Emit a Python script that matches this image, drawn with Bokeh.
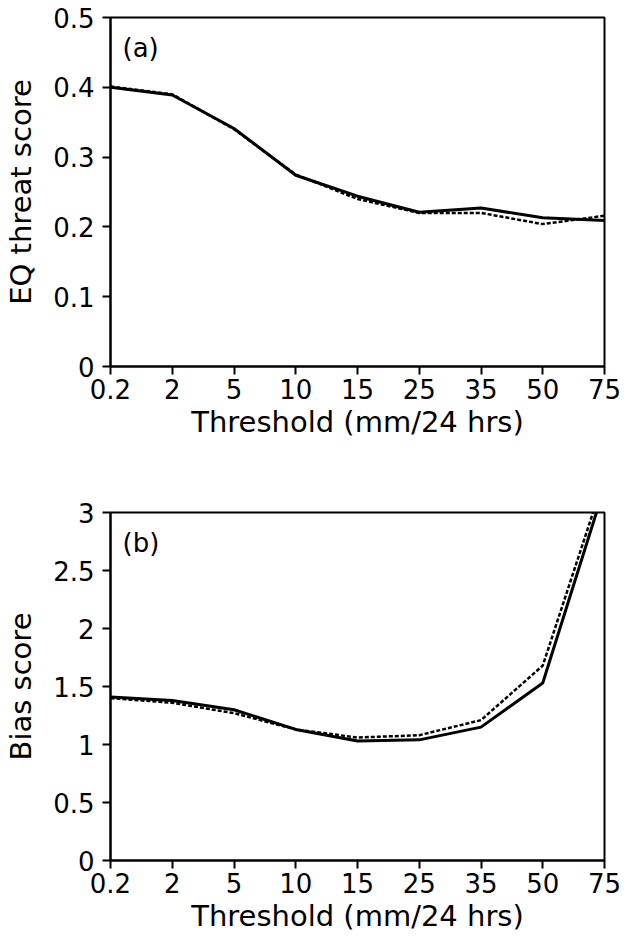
from bokeh.plotting import figure
from bokeh.layouts import column
from bokeh.models import Range1d, FixedTicker, Label
from bokeh.embed import file_html
from bokeh.resources import INLINE

thresholds = ["0.2", "2", "5", "10", "15", "25", "35", "50", "75"]
ets_solid = [0.400, 0.389, 0.341, 0.274, 0.244, 0.221, 0.227, 0.213, 0.209]
ets_dashed = [0.401, 0.390, 0.340, 0.275, 0.240, 0.220, 0.220, 0.204, 0.216]
bias_solid = [1.41, 1.38, 1.30, 1.13, 1.03, 1.04, 1.15, 1.53, 3.22]
bias_dashed = [1.40, 1.36, 1.27, 1.13, 1.06, 1.08, 1.21, 1.68, 3.30]
ets_ticks = [0, 0.1, 0.2, 0.3, 0.4, 0.5]
bias_ticks = [0, 0.5, 1, 1.5, 2, 2.5, 3]

FONT = "DejaVu Sans"
xs = list(range(len(thresholds)))


def make_panel(solid, dashed, ymax, yticks, ylabel, tag, top, bottom, height):
    p = figure(width=631, height=height, output_backend="svg", toolbar_location=None,
               x_range=Range1d(0, len(thresholds) - 1), y_range=Range1d(0, ymax),
               min_border_left=110, min_border_right=27, min_border_top=top,
               min_border_bottom=bottom)
    p.xgrid.visible = False
    p.ygrid.visible = False
    p.outline_line_color = "black"
    p.outline_line_width = 2
    p.background_fill_color = "white"
    p.border_fill_color = "white"

    p.line(xs, solid, line_color="black", line_width=3)
    p.line(xs, dashed, line_color="black", line_width=2.5, line_dash="4 2")

    for ax in (p.xaxis[0], p.yaxis[0]):
        ax.axis_line_color = "black"
        ax.axis_line_width = 2
        ax.major_tick_line_color = "black"
        ax.major_tick_line_width = 2
        ax.major_tick_out = 8
        ax.major_tick_in = 0
        ax.minor_tick_line_color = None
        ax.major_label_text_font = FONT
        ax.major_label_text_font_size = "26px"
        ax.major_label_text_color = "black"
        ax.axis_label_text_font = FONT
        ax.axis_label_text_font_size = "29px"
        ax.axis_label_text_font_style = "normal"
        ax.axis_label_text_color = "black"

    p.xaxis.ticker = FixedTicker(ticks=xs)
    p.xaxis.major_label_overrides = {i: t for i, t in zip(xs, thresholds)}
    p.xaxis.major_label_standoff = 4
    p.xaxis.axis_label = "Threshold (mm/24 hrs)"
    p.xaxis.axis_label_standoff = 3

    p.yaxis.ticker = FixedTicker(ticks=yticks)
    p.yaxis.major_label_overrides = {t: (str(t) if t != 0 else "0") for t in yticks}
    p.yaxis.major_label_standoff = 8
    p.yaxis.axis_label = ylabel
    p.yaxis.axis_label_standoff = 12

    p.add_layout(Label(x=12, y=p.height - top - bottom - 15, x_units="screen", y_units="screen",
                       text=tag, text_font=FONT, text_font_size="26px", text_color="black",
                       text_baseline="top"))
    return p


p1 = make_panel(ets_solid, ets_dashed, 0.5, ets_ticks, "EQ threat score", "(a)", 17, 100, 466)
p2 = make_panel(bias_solid, bias_dashed, 3, bias_ticks, "Bias score", "(b)", 46, 77, 471)

layout = column(p1, p2, spacing=0)
open("out.html", "w").write(file_html(layout, INLINE))
